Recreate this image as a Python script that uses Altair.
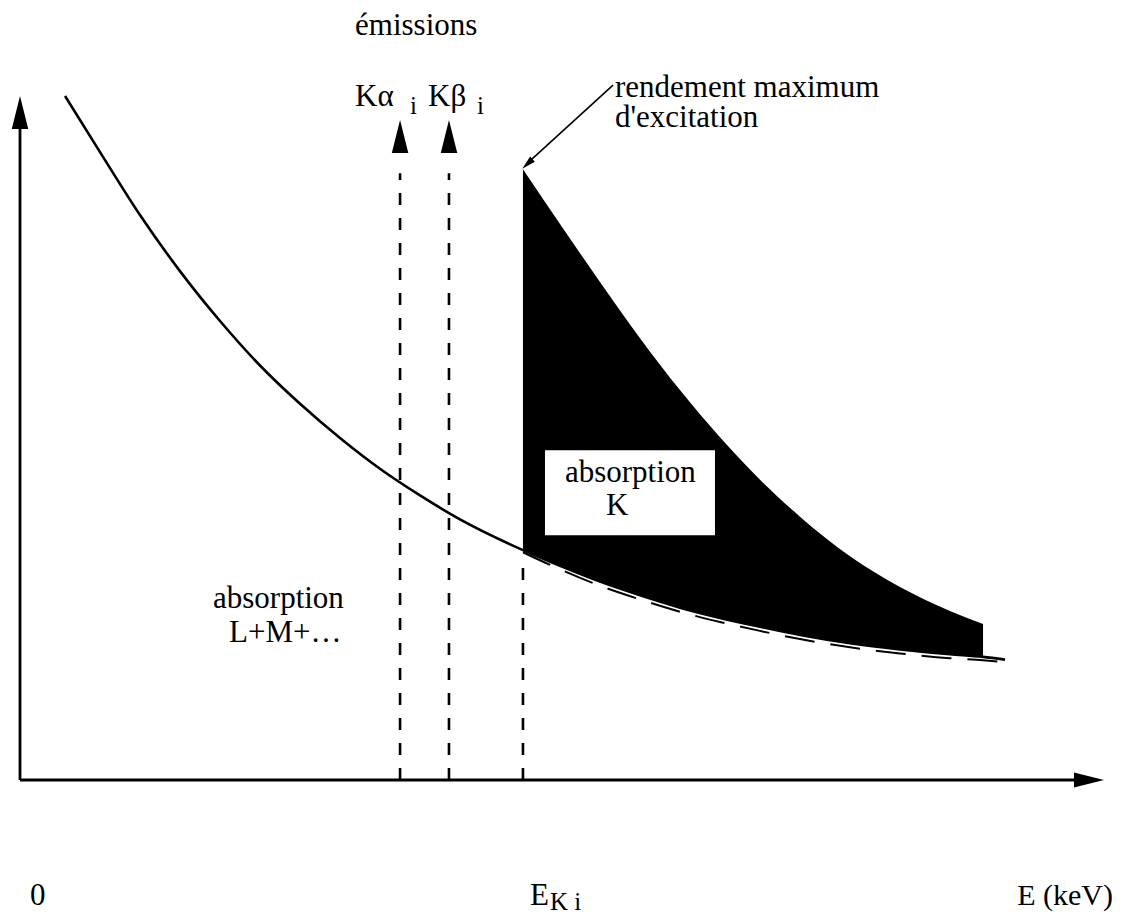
import altair as alt
import pandas as pd

# ---- data (E and mu in arbitrary units) ----
# L+M+... absorption curve (solid)
lm_E = [4.17, 7.41, 11.11, 14.81, 18.52, 22.22, 25.93, 29.63, 33.33, 37.04, 40.74, 46.57,
        50.0, 53.70, 57.41, 61.11, 64.81, 68.52, 72.22, 76.85, 81.48, 86.11, 89.17, 91.20]
lm_mu = [100.0, 91.8, 82.6, 74.4, 67.1, 60.6, 55.0, 50.0, 45.5, 41.6, 38.1, 33.6,
         31.3, 29.0, 27.0, 25.2, 23.7, 22.4, 21.2, 20.0, 19.1, 18.4, 18.0, 17.6]
# K absorption band (above the edge)
k_E = [46.57, 50.0, 53.70, 57.41, 61.11, 64.81, 68.52, 72.22, 76.85, 81.48, 86.11, 89.17]
k_top = [89.3, 81.3, 72.8, 64.6, 57.0, 50.1, 43.9, 38.5, 32.7, 28.2, 24.7, 22.8]
k_bottom = [33.6, 31.3, 29.0, 27.0, 25.2, 23.7, 22.4, 21.2, 20.0, 19.1, 18.4, 18.0]
# dashed extrapolation of the L+M curve
ext_E = [46.57, 50.0, 53.70, 57.41, 61.11, 64.81, 68.52, 72.22, 76.85, 81.48, 86.11, 89.17, 90.74]
ext_mu = [33.3, 30.8, 28.4, 26.4, 24.6, 23.1, 21.8, 20.6, 19.4, 18.5, 17.8, 17.5, 17.3]
# emission lines and K edge
emis_E = [35.19, 39.72]
emis_top = [88.7, 88.7]
edge_E = [46.57]
edge_top = [31.4]

X_DOM = [-1.1111, 101.3889]
Y_DOM = [-19.737, 112.865]

FONT = "Liberation Serif"

xs = alt.Scale(domain=X_DOM, nice=False, zero=False)
ys = alt.Scale(domain=Y_DOM, nice=False, zero=False)

def X(f="E"):
    return alt.X(f"{f}:Q", scale=xs, axis=None)

def Y(f="mu"):
    return alt.Y(f"{f}:Q", scale=ys, axis=None)

lm_df = pd.DataFrame({"E": lm_E, "mu": lm_mu})
k_df = pd.DataFrame({"E": k_E, "mu": k_top, "mu2": k_bottom})
ext_df = pd.DataFrame({"E": ext_E, "mu": ext_mu})
vl_df = pd.DataFrame({"E": emis_E + edge_E, "mu": [0, 0, 0], "mu2": emis_top + edge_top})

curve = alt.Chart(lm_df).mark_line(color="black", strokeWidth=2.6, interpolate="monotone").encode(
    x=X(), y=Y())
band = alt.Chart(k_df).mark_area(color="black", interpolate="monotone", opacity=1).encode(
    x=X(), y=Y(), y2="mu2:Q")
ext = alt.Chart(ext_df).mark_line(color="black", strokeWidth=2, strokeDash=[30, 16],
                                  interpolate="monotone").encode(x=X(), y=Y())
vlines = alt.Chart(vl_df).mark_rule(color="black", strokeWidth=2.6, strokeDash=[12, 13]).encode(
    x=X(), y=Y(), y2="mu2:Q")

# white label box inside the K band
box_df = pd.DataFrame({"E": [48.61], "E2": [64.35], "mu": [48.2], "mu2": [35.8]})
box = alt.Chart(box_df).mark_rect(color="white").encode(
    x=X(), x2="E2:Q", y=Y(), y2="mu2:Q")

# axes
axes_df = pd.DataFrame({"E": [0.0, 0.0], "E2": [0.0, 98.0], "mu": [0.0, 0.0], "mu2": [96.0, 0.0]})
axes = alt.Chart(axes_df).mark_rule(color="black", strokeWidth=2.8).encode(
    x=X(), x2="E2:Q", y=Y(), y2="mu2:Q")

UP = "M0,-1L0.5,1L-0.5,1Z"
RIGHT = "M1,0L-1,-0.5L-1,0.5Z"
up_df = pd.DataFrame({"E": [0.0, 35.19, 39.72], "mu": [97.59, 94.08, 94.08]})
up_heads = alt.Chart(up_df).mark_point(shape=UP, filled=True, color="black", size=1089, opacity=1,
                                       strokeWidth=0).encode(x=X(), y=Y())
right_df = pd.DataFrame({"E": [98.98], "mu": [0.0]})
right_head = alt.Chart(right_df).mark_point(shape=RIGHT, filled=True, color="black", size=900,
                                            opacity=1, strokeWidth=0).encode(x=X(), y=Y())

# pointer arrow to the maximum excitation yield
ptr_df = pd.DataFrame({"E": [54.91], "E2": [46.94], "mu": [101.6], "mu2": [90.1]})
ptr = alt.Chart(ptr_df).mark_rule(color="black", strokeWidth=1.6).encode(
    x=X(), x2="E2:Q", y=Y(), y2="mu2:Q")
ptr_head_df = pd.DataFrame({"E": [46.98], "mu": [90.07]})
ptr_head = alt.Chart(ptr_head_df).mark_point(shape=UP, filled=True, color="black", size=196,
                                             angle=227, opacity=1, strokeWidth=0).encode(x=X(), y=Y())

# texts
txt_E = [31.02, 31.02, 37.78, 55.09, 55.09, 17.87, 19.35, 50.46, 54.26, 0.93, 47.22]
txt_mu = [108.9, 98.5, 98.5, 99.85, 95.47, 25.1, 20.2, 43.6, 38.7, -18.3, -18.3]
txt_label = ["émissions", "Kα", "Kβ", "rendement maximum", "d'excitation",
             "absorption", "L+M+…", "absorption", "K", "0", "E"]
sub_E = [36.11, 42.31, 49.07]
sub_mu = [97.4, 97.4, -19.0]
sub_label = ["i", "i", "K i"]
unit_E = [101.2]
unit_mu = [-18.3]
unit_label = ["E (keV)"]

txt_df = pd.DataFrame({"E": txt_E, "mu": txt_mu, "label": txt_label})
sub_df = pd.DataFrame({"E": sub_E, "mu": sub_mu, "label": sub_label})
unit_df = pd.DataFrame({"E": unit_E, "mu": unit_mu, "label": unit_label})
texts = alt.Chart(txt_df).mark_text(font=FONT, fontSize=31, align="left", baseline="alphabetic",
                                    color="black").encode(x=X(), y=Y(), text="label:N")
subs = alt.Chart(sub_df).mark_text(font=FONT, fontSize=25, align="left", baseline="alphabetic",
                                   color="black").encode(x=X(), y=Y(), text="label:N")
unit = alt.Chart(unit_df).mark_text(font=FONT, fontSize=30, align="right", baseline="alphabetic",
                                    color="black").encode(x=X(), y=Y(), text="label:N")

chart = alt.layer(curve, band, ext, box, vlines, axes, up_heads, right_head, ptr, ptr_head,
                  texts, subs, unit).properties(
    width=1107, height=907, padding=0, autosize=alt.AutoSizeParams(type="none"),
    background="white"
).configure_view(stroke=None)

chart.save("out.html", embed_options={"renderer": "svg", "actions": False})
